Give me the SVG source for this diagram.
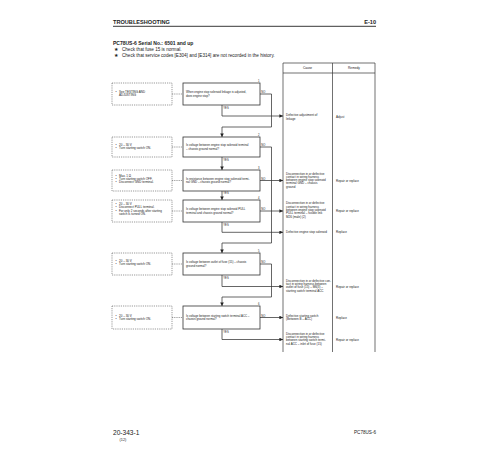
<svg xmlns="http://www.w3.org/2000/svg" width="500" height="450" viewBox="0 0 500 450">
<defs>
<marker id="ah" viewBox="0 0 6 6" markerWidth="3.6" markerHeight="3.6" refX="6" refY="3" orient="auto" markerUnits="userSpaceOnUse"><path d="M0,0 L6,3 L0,6 z" fill="#222"/></marker>
<style>
text{font-family:"Liberation Sans",Arial,sans-serif;fill:#222}
.hd{font-size:5.6px;font-weight:bold}
.ti{font-size:5px;font-weight:bold}
.bl{font-size:4.6px}
.q{font-size:2.9px}
.s{font-size:3px}
.sm{font-size:2.7px}
.c{font-size:3px}
.th{font-size:3.2px}
.qb{fill:#fff;stroke:#333;stroke-width:0.8}
.lb{fill:none;stroke:#555;stroke-width:0.6;stroke-dasharray:1.2 1}
.dc{fill:none;stroke:#555;stroke-width:0.6;stroke-dasharray:1.2 1}
.cn{fill:none;stroke:#333;stroke-width:0.75}
.ar{marker-end:url(#ah)}
.tb{fill:none;stroke:#333;stroke-width:0.7}
</style>
</defs>
<rect width="500" height="450" fill="#fff"/>
<g id="header">
<text class="hd" x="113" y="24">TROUBLESHOOTING</text>
<text class="hd" x="376" y="24" text-anchor="end">E-10</text>
<line x1="113" y1="26.3" x2="376" y2="26.3" stroke="#222" stroke-width="0.9"/>
<text class="ti" x="113" y="44.5">PC78US-6  Serial No.: 6501 and up</text>
<text class="bl" x="113.5" y="50.5">★</text>
<text class="bl" x="122" y="50.5">Check that fuse 15 is normal.</text>
<text class="bl" x="113.5" y="57">★</text>
<text class="bl" x="122" y="57">Check that service codes [E304] and [E314] are not recorded in the history.</text>
</g>
<g id="table">
<polyline class="tb" points="283,352 283,63 375,63 375,352"/>
<line class="tb" x1="283" y1="73" x2="375" y2="73"/>
<line class="tb" x1="332.5" y1="63" x2="332.5" y2="352"/>
<text class="th" x="307.5" y="69.2" text-anchor="middle">Cause</text>
<text class="th" x="354" y="69.2" text-anchor="middle">Remedy</text>
</g>
<g id="connectors">
<line class="dc" x1="172" y1="94" x2="183" y2="94"/>
<line class="dc" x1="172" y1="147" x2="183" y2="147"/>
<line class="dc" x1="172" y1="180.5" x2="183" y2="180.5"/>
<line class="dc" x1="172" y1="211" x2="183" y2="211"/>
<line class="dc" x1="172" y1="264" x2="183" y2="264"/>
<line class="dc" x1="172" y1="317.5" x2="183" y2="317.5"/>
<polyline class="cn ar" points="260,94 271.5,94 271.5,127 222,127 222,137"/>
<polyline class="cn ar" points="222,105 222,116 283,116"/>
<polyline class="cn ar" points="222,157 222,170"/>
<polyline class="cn ar" points="260,147 271.5,147 271.5,243 222,243 222,253"/>
<polyline class="cn ar" points="260,180.5 283,180.5"/>
<polyline class="cn ar" points="222,191 222,200"/>
<polyline class="cn ar" points="260,211 283,211"/>
<polyline class="cn ar" points="222,222 222,232.3 283,232.3"/>
<polyline class="cn ar" points="260,264 271.5,264 271.5,297 222,297 222,306"/>
<polyline class="cn ar" points="222,275 222,286.5 283,286.5"/>
<polyline class="cn ar" points="260,317.5 283,317.5"/>
<polyline class="cn ar" points="222,329 222,339.5 283,339.5"/>
<text class="sm" x="261.3" y="93.3">NO</text>
<text class="sm" x="223.3" y="108.6">YES</text>
<text class="sm" x="261.3" y="146.3">NO</text>
<text class="sm" x="223.3" y="160.6">YES</text>
<text class="sm" x="261.3" y="179.8">NO</text>
<text class="sm" x="223.3" y="194.4">YES</text>
<text class="sm" x="261.3" y="210.3">NO</text>
<text class="sm" x="223.3" y="225.6">YES</text>
<text class="sm" x="261.3" y="263.3">NO</text>
<text class="sm" x="223.3" y="278.6">YES</text>
<text class="sm" x="261.3" y="316.8">NO</text>
<text class="sm" x="223.3" y="332.6">YES</text>
</g>
<g id="q1">
<rect class="qb" x="183" y="83" width="77" height="22"/>
<text class="sm" x="258" y="81.5">1</text>
<text class="q" x="186" y="93.2">When engine stop solenoid linkage is adjusted,</text>
<text class="q" x="186" y="96.5">does engine stop?</text>
</g>
<g id="q2">
<rect class="qb" x="183" y="137" width="77" height="20"/>
<text class="sm" x="258" y="135.5">2</text>
<text class="q" x="186" y="146.2">Is voltage between engine stop solenoid terminal</text>
<text class="q" x="186" y="149.5">– chassis ground normal?</text>
</g>
<g id="q3">
<rect class="qb" x="183" y="170" width="77" height="21"/>
<text class="sm" x="258" y="168.5">3</text>
<text class="q" x="186" y="179.7">Is resistance between engine stop solenoid termi-</text>
<text class="q" x="186" y="183">nal GND – chassis ground normal?</text>
</g>
<g id="q4">
<rect class="qb" x="183" y="200" width="77" height="22"/>
<text class="sm" x="258" y="198.5">4</text>
<text class="q" x="186" y="210.2">Is voltage between engine stop solenoid PULL</text>
<text class="q" x="186" y="213.5">terminal and chassis ground normal?</text>
</g>
<g id="q5">
<rect class="qb" x="183" y="253" width="77" height="22"/>
<text class="sm" x="258" y="251.5">5</text>
<text class="q" x="186" y="263.2">Is voltage between outlet of fuse (15) – chassis</text>
<text class="q" x="186" y="266.5">ground normal?</text>
</g>
<g id="q6">
<rect class="qb" x="183" y="306" width="77" height="23"/>
<text class="sm" x="258" y="304.5">6</text>
<text class="q" x="186" y="316.7">Is voltage between starting switch terminal ACC –</text>
<text class="q" x="186" y="320">chassis ground normal?</text>
</g>
<g id="l1">
<rect class="lb" x="112" y="83" width="60" height="22"/>
<text class="s" x="115.5" y="93">•</text><text class="s" x="119" y="93">See TESTING AND</text>
<text class="s" x="119" y="96.3">ADJUSTING</text>
</g>
<g id="l2">
<rect class="lb" x="112" y="137" width="60" height="20"/>
<text class="s" x="115.5" y="146">•</text><text class="s" x="119" y="146">20 – 30 V</text>
<text class="s" x="115.5" y="149.3">•</text><text class="s" x="119" y="149.3">Turn starting switch ON.</text>
</g>
<g id="l3">
<rect class="lb" x="112" y="170" width="60" height="21"/>
<text class="s" x="115.5" y="176.5">•</text><text class="s" x="119" y="176.5">Max. 1 Ω</text>
<text class="s" x="115.5" y="179.8">•</text><text class="s" x="119" y="179.8">Turn starting switch OFF.</text>
<text class="s" x="115.5" y="183.1">•</text><text class="s" x="119" y="183.1">Disconnect GND terminal.</text>
</g>
<g id="l4">
<rect class="lb" x="112" y="200" width="60" height="22"/>
<text class="s" x="115.5" y="205">•</text><text class="s" x="119" y="205">20 – 30 V</text>
<text class="s" x="115.5" y="208.3">•</text><text class="s" x="119" y="208.3">Disconnect PULL terminal.</text>
<text class="s" x="115.5" y="211.6">•</text><text class="s" x="119" y="211.6">For only 2 seconds after starting</text>
<text class="s" x="119" y="214.9">switch is turned ON.</text>
</g>
<g id="l5">
<rect class="lb" x="112" y="253" width="60" height="22"/>
<text class="s" x="115.5" y="262">•</text><text class="s" x="119" y="262">20 – 30 V</text>
<text class="s" x="115.5" y="265.3">•</text><text class="s" x="119" y="265.3">Turn starting switch ON.</text>
</g>
<g id="l6">
<rect class="lb" x="112" y="306" width="60" height="23"/>
<text class="s" x="115.5" y="317">•</text><text class="s" x="119" y="317">20 – 30 V</text>
<text class="s" x="115.5" y="320.3">•</text><text class="s" x="119" y="320.3">Turn starting switch ON.</text>
</g>
<g id="c1">
<text class="c" x="286" y="116.3">Defective adjustment of</text>
<text class="c" x="286" y="119.6">linkage</text>
<text class="c" x="336" y="118">Adjust</text>
</g>
<g id="c2">
<text class="c" x="286" y="174.5">Disconnection in or defective</text>
<text class="c" x="286" y="177.8">contact in wiring harness</text>
<text class="c" x="286" y="181.1">between engine stop solenoid</text>
<text class="c" x="286" y="184.4">terminal GND – chassis</text>
<text class="c" x="286" y="187.7">ground</text>
<text class="c" x="336" y="181.5">Repair or replace</text>
</g>
<g id="c3">
<text class="c" x="286" y="204.3">Disconnection in or defective</text>
<text class="c" x="286" y="207.6">contact in wiring harness</text>
<text class="c" x="286" y="210.9">between engine stop solenoid</text>
<text class="c" x="286" y="214.2">PULL terminal – fusible link</text>
<text class="c" x="286" y="217.5">M26 (male) (2)</text>
<text class="c" x="336" y="212">Repair or replace</text>
</g>
<g id="c4">
<text class="c" x="286" y="233.3">Defective engine stop solenoid</text>
<text class="c" x="336" y="233.3">Replace</text>
</g>
<g id="c5">
<text class="c" x="286" y="282">Disconnection in or defective con-</text>
<text class="c" x="286" y="285.2">tact in wiring harness between</text>
<text class="c" x="286" y="288.4">outlet of fuse (15) – M6(3) –</text>
<text class="c" x="286" y="291.6">starting switch terminal ACC</text>
<text class="c" x="336" y="287.5">Repair or replace</text>
</g>
<g id="c6">
<text class="c" x="286" y="317">Defective starting switch</text>
<text class="c" x="286" y="320.2">(Between B – ACC)</text>
<text class="c" x="336" y="318.5">Replace</text>
</g>
<g id="c7">
<text class="c" x="286" y="335">Disconnection in or defective</text>
<text class="c" x="286" y="338.2">contact in wiring harness</text>
<text class="c" x="286" y="341.4">between starting switch termi-</text>
<text class="c" x="286" y="344.6">nal ACC – inlet of fuse (15)</text>
<text class="c" x="336" y="341">Repair or replace</text>
</g>
<g id="footer">
<text x="113" y="434.5" style="font-size:6.6px">20-343-1</text>
<text x="123" y="440.5" text-anchor="middle" style="font-size:3.8px">(12)</text>
<text x="376" y="434" text-anchor="end" style="font-size:4.6px">PC78US-6</text>
</g>
</svg>
